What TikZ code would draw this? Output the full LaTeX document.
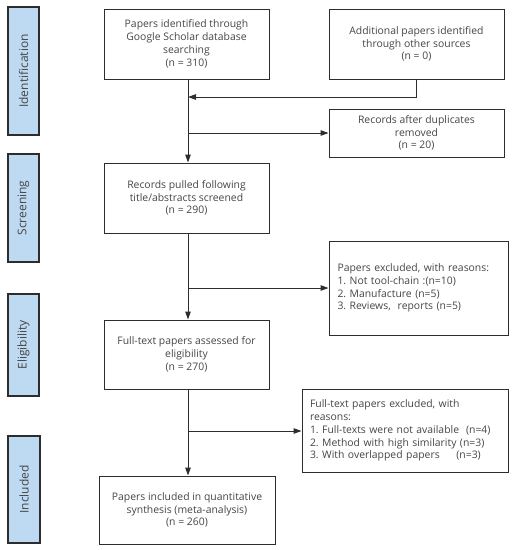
\documentclass[tikz,border=0pt]{standalone}
\usepackage{fontspec}
\setmainfont{Open Sans}
\usetikzlibrary{arrows.meta}
\definecolor{sideblue}{RGB}{190,218,243}
\definecolor{linegray}{RGB}{45,45,45}
\definecolor{textgray}{RGB}{70,70,70}
\frenchspacing
\begin{document}
\begin{tikzpicture}[x=1pt,y=-1pt,
  box/.style={draw=linegray,line width=1pt,fill=white,inner sep=0pt,text=textgray,
    font=\fontsize{10.4}{12.8}\selectfont,align=center},
  lbox/.style={box,align=left},
  side/.style={draw=linegray,line width=1.2pt,fill=sideblue,inner sep=0pt,text=textgray,
    font=\fontsize{12}{14}\selectfont},
  arr/.style={draw=linegray,line width=1pt,-{Triangle[length=8pt,width=5.5pt]}},
  ln/.style={draw=linegray,line width=1pt}]
\useasboundingbox (0,0) rectangle (514,550);
% side labels
\node[side,minimum width=31pt,minimum height=128pt] (sid) at (23.5,71) {\rotatebox{90}{Identification}};
\node[side,minimum width=31pt,minimum height=108pt] (sscr) at (23.5,208) {\rotatebox{90}{Screening}};
\node[side,minimum width=31pt,minimum height=102pt] (selig) at (23.5,345) {\rotatebox{90}{Eligibility}};
\node[side,minimum width=32pt,minimum height=107pt] (sincl) at (24,489.5) {\rotatebox{90}{Included}};
% boxes
\node[box,minimum width=165pt,minimum height=70pt] (b1) at (186.5,44) {Papers identified through\\Google Scholar database\\searching\\(n = 310)};
\node[box,minimum width=175pt,minimum height=70pt] (b2) at (416.5,44) {Additional papers identified\\through other sources\\(n = 0)};
\node[box,minimum width=175pt,minimum height=48pt] (b3) at (416.5,133) {Records after duplicates\\removed\\(n = 20)};
\node[box,minimum width=165pt,minimum height=70pt] (b4) at (186.5,198) {Records pulled following\\title/abstracts screened\\(n = 290)};
\node[lbox,minimum width=179pt,minimum height=94pt,text width=162pt] (b5) at (418.5,288) {Papers excluded, with reasons:\\1. Not tool-chain :(n=10)\\2. Manufacture (n=5)\\3. Reviews,\ \ reports (n=5)};
\node[box,minimum width=165pt,minimum height=69pt] (b6) at (186.5,354.5) {Full-text papers assessed for\\eligibility\\(n = 270)};
\node[lbox,minimum width=206pt,minimum height=83pt,text width=190pt] (b7) at (405,430.5) {Full-text papers excluded, with\\reasons:\\1. Full-texts were not available\ \ (n=4)\\2. Method with high similarity (n=3)\\3. With overlapped papers\hspace{1.6em}(n=3)};
\node[box,minimum width=176pt,minimum height=68pt] (b8) at (187,510) {Papers included in quantitative\\synthesis (meta-analysis)\\(n = 260)};
% connectors
\coordinate (m1) at (188,97);
\coordinate (m2) at (188,133);
\coordinate (m3) at (188,288);
\coordinate (m4) at (188,431);
\draw[ln] (b1.south -| m1) -- (m2);
\draw[arr] (m2) -- (b4.north -| m2);
\draw[arr] (b2.south) |- (m1);
\draw[arr] (m2) -- (b3.west);
\draw[ln] (b4.south -| m3) -- (m3);
\draw[arr] (m3) -- (b6.north -| m3);
\draw[arr] (m3) -- (b5.west |- m3);
\draw[ln] (b6.south -| m4) -- (m4);
\draw[arr] (m4) -- (b8.north -| m4);
\draw[arr] (m4) -- (b7.west |- m4);
\end{tikzpicture}
\end{document}
